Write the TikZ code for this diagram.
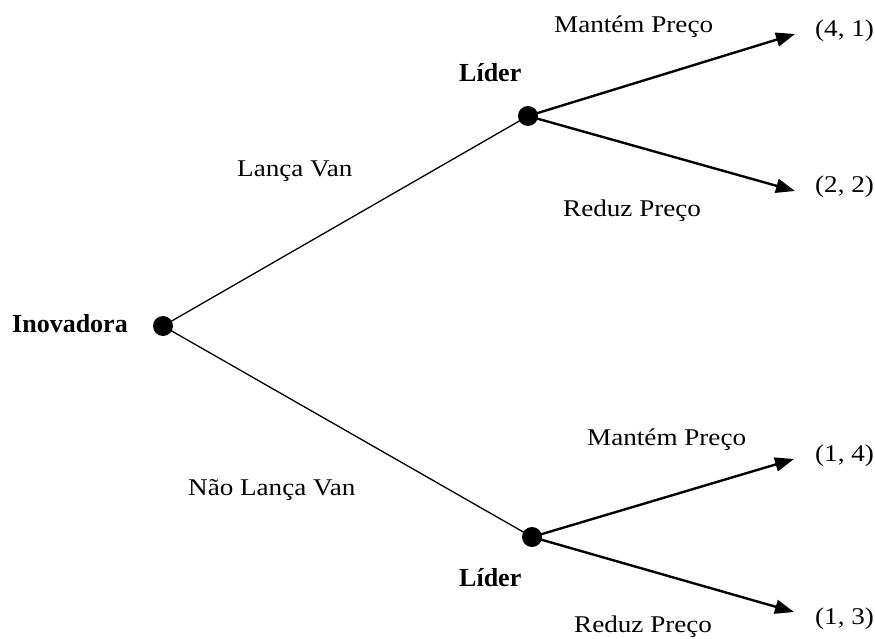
\documentclass[tikz,border=0pt]{standalone}
\usepackage{fontspec}
\setmainfont{Liberation Serif}[FakeStretch=1.13]
\newfontfamily\playerfont{Liberation Serif}
\usetikzlibrary{arrows.meta}
\begin{document}
\begin{tikzpicture}[x=1pt,y=-1pt,
  txt/.style={anchor=base west,inner sep=0pt,font=\fontsize{24}{28}\selectfont},
  player/.style={txt,font=\playerfont\fontsize{26}{30}\selectfont\bfseries},
  decision/.style={circle,fill=black,inner sep=0pt,minimum size=20pt},
  root/.style={line width=1.3pt},
  move/.style={line width=2.4pt,-{Triangle[length=19pt,width=14pt]}}]
\useasboundingbox (0,0) rectangle (875,639);
% decision nodes
\node[decision] (n0) at (163,326) {};
\node[decision] (n1) at (528,116) {};
\node[decision] (n2) at (532,537) {};
% terminal points
\coordinate (t1) at (795,34);
\coordinate (t2) at (795,191);
\coordinate (t3) at (794,459);
\coordinate (t4) at (794,612);
% edges
\draw[root] (n0.center) -- (n1.center);
\draw[root] (n0.center) -- (n2.center);
\draw[move] (n1.center) -- (t1);
\draw[move] (n1.center) -- (t2);
\draw[move] (n2.center) -- (t3);
\draw[move] (n2.center) -- (t4);
% players
\node[player] (pI) at (12,332) {Inovadora};
\node[player] (pL1) at (459,82) {Líder};
\node[player] (pL2) at (459,586) {Líder};
% action labels
\node[txt] (a1) at (237,177) {Lança Van};
\node[txt] (a2) at (188,495) {Não Lança Van};
\node[txt] (a3) at (554,33) {Mantém Preço};
\node[txt] (a4) at (563,217) {Reduz Preço};
\node[txt] (a5) at (587,445) {Mantém Preço};
\node[txt] (a6) at (574,632) {Reduz Preço};
% payoffs
\node[txt] (p1) at (815,37) {(4, 1)};
\node[txt] (p2) at (815,193) {(2, 2)};
\node[txt] (p3) at (815,461) {(1, 4)};
\node[txt] (p4) at (815,624) {(1, 3)};
\end{tikzpicture}
\end{document}
